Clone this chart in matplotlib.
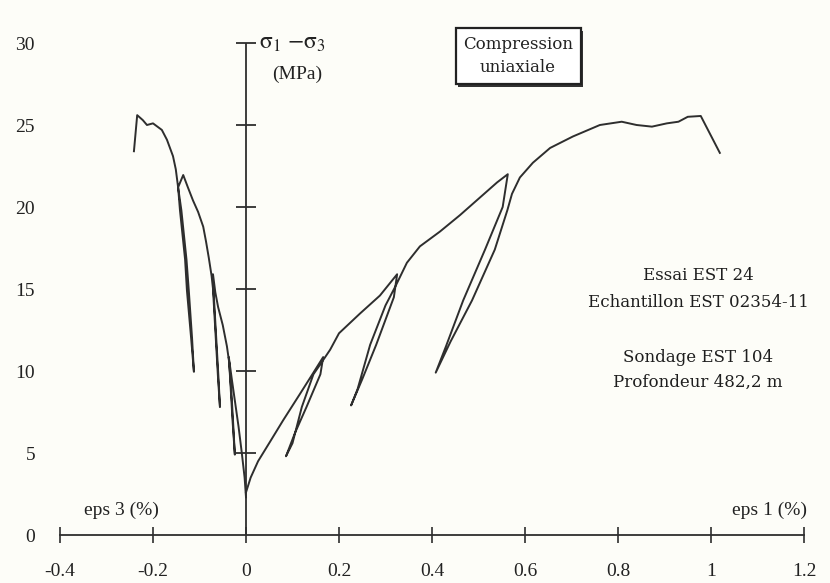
import matplotlib
matplotlib.use("Agg")
import matplotlib.pyplot as plt
import matplotlib.patheffects as pe
import numpy as np

# axial strain eps1 (%) and deviatoric stress (MPa), with three unload/reload cycles
eps1 = [0.0, 0.01, 0.026, 0.052, 0.08, 0.116, 0.145, 0.166,
        0.16, 0.13, 0.105, 0.086,
        0.10, 0.12, 0.145, 0.162,
        0.181, 0.20, 0.245, 0.288, 0.325,
        0.318, 0.28, 0.25, 0.226,
        0.24, 0.267, 0.30, 0.322,
        0.346, 0.374, 0.417, 0.46, 0.488, 0.54, 0.563,
        0.552, 0.514, 0.467, 0.43, 0.408,
        0.44, 0.486, 0.535, 0.562, 0.572,
        0.589, 0.617, 0.654, 0.703, 0.761, 0.808, 0.84, 0.873, 0.905, 0.93,
        0.95, 0.978, 1.019]
sig1 = [2.6, 3.5, 4.5, 5.7, 7.0, 8.6, 9.9, 10.85,
        9.8, 7.8, 6.2, 4.8,
        5.6, 7.8, 9.8, 10.5,
        11.3, 12.3, 13.5, 14.6, 15.9,
        14.5, 11.6, 9.5, 7.9,
        8.9, 11.6, 14.0, 15.2,
        16.6, 17.6, 18.5, 19.5, 20.2, 21.5, 22.0,
        20.0, 17.4, 14.3, 11.5, 9.9,
        11.8, 14.3, 17.4, 19.8, 20.8,
        21.8, 22.7, 23.6, 24.3, 25.0, 25.2, 25.0, 24.9, 25.1, 25.2,
        25.5, 25.55, 23.3]

# lateral strain eps3 (%) and deviatoric stress (MPa)
eps3 = [0.0, -0.003, -0.009, -0.016, -0.024, -0.031, -0.037,
        -0.034, -0.029, -0.024,
        -0.027, -0.031, -0.036,
        -0.041, -0.05, -0.06, -0.066, -0.071,
        -0.07, -0.064, -0.06, -0.056,
        -0.059, -0.063, -0.069, -0.074,
        -0.08, -0.086, -0.092, -0.103, -0.114, -0.125, -0.135,
        -0.146, -0.142, -0.131, -0.127, -0.118, -0.112,
        -0.116, -0.123, -0.128, -0.139, -0.146,
        -0.151, -0.157, -0.17, -0.181, -0.20, -0.213, -0.222, -0.234, -0.241]
sig3 = [2.3, 3.5, 5.0, 6.6, 8.2, 9.6, 10.85,
        9.5, 7.0, 4.9,
        6.5, 8.5, 10.5,
        11.5, 12.8, 13.9, 14.8, 15.9,
        14.5, 11.5, 9.5, 7.8,
        9.5, 11.5, 14.5, 15.8,
        16.9, 17.9, 18.8, 19.7, 20.4, 21.2, 21.95,
        21.2, 19.8, 16.8, 14.9, 12.0, 9.95,
        12.0, 14.9, 16.8, 19.8, 21.2,
        22.3, 23.1, 24.1, 24.7, 25.1, 25.0, 25.3, 25.6, 23.4]

xticks = [-0.4, -0.2, 0, 0.2, 0.4, 0.6, 0.8, 1.0, 1.2]
xlabels = ['-0.4', '-0.2', '0', '0.2', '0.4', '0.6', '0.8', '1', '1.2']
yticks = [0, 5, 10, 15, 20, 25, 30]

info = ['Essai EST 24', 'Echantillon EST 02354-11', '', 'Sondage EST 104', 'Profondeur 482,2 m']

plt.rcParams['font.family'] = ['Liberation Serif', 'DejaVu Serif']
plt.rcParams['mathtext.fontset'] = 'stix'
ink = '#2e2e2e'

fig = plt.figure(figsize=(8.3, 5.83), dpi=100, facecolor='#fdfdf8')
ax = fig.add_axes([60 / 830, 48 / 583, 744 / 830, 492 / 583])
ax.set_facecolor('#fdfdf8')
ax.set_xlim(-0.4, 1.2)
ax.set_ylim(0, 30)

for s in ['top', 'right', 'left']:
    ax.spines[s].set_visible(False)
ax.spines['bottom'].set_color(ink)
ax.spines['bottom'].set_linewidth(1.3)

ax.set_xticks(xticks)
ax.set_xticklabels(xlabels)
ax.tick_params(axis='x', direction='inout', length=12, width=1.2, color=ink,
               pad=14, labelsize=14, labelcolor='#222')
ax.set_yticks(yticks)
ax.set_yticklabels([str(v) for v in yticks])
ax.tick_params(axis='y', length=0, pad=18, labelsize=14, labelcolor='#222')

# central stress axis with its ticks
ax.axvline(0, 0, 1, color=ink, lw=1.3)
ax.plot(np.zeros(len(yticks) - 1), yticks[1:], ls='none', marker='_',
        ms=14, mew=1.3, color=ink, clip_on=False)

ax.plot(eps1, sig1, color=ink, lw=1.4)
ax.plot(eps3, sig3, color=ink, lw=1.4)

ax.text(0.028, 30, r'$\mathrm{\sigma_1\ {-}\sigma_3}$', fontsize=17, va='center', ha='left',
        color='#222')
ax.text(0.11, 28.1, '(MPa)', fontsize=14, va='center', ha='center', color='#222')

box = ax.text(0.585, 29.2, 'Compression\nuniaxiale', fontsize=12, ha='center', va='center',
              family='DejaVu Serif', color='#222', linespacing=1.5,
              bbox=dict(boxstyle='square,pad=0.45', fc='white', ec='#222', lw=1.6))
box.get_bbox_patch().set_path_effects([
    pe.SimplePatchShadow(offset=(2, -2), shadow_rgbFace='#333', alpha=1.0),
    pe.Normal()])

ys = [15.85, 14.2, 12.5, 10.85, 9.3]
for t, yv in zip(info, ys):
    if t:
        ax.text(0.972, yv, t, fontsize=12, ha='center', va='center',
                family='DejaVu Serif', color='#1e1e1e')

ax.text(-0.267, 1.5, 'eps 3 (%)', fontsize=14, ha='center', va='center', color='#222')
ax.text(1.125, 1.5, 'eps 1 (%)', fontsize=14, ha='center', va='center', color='#222')

fig.savefig('out.png', dpi=100, facecolor=fig.get_facecolor())
